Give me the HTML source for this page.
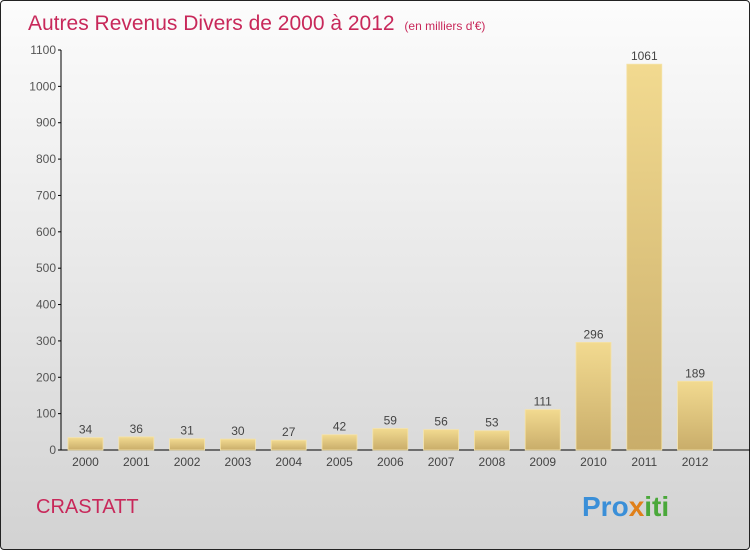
<!DOCTYPE html>
<html><head><meta charset="utf-8"><style>
html,body{margin:0;padding:0;}
body{width:750px;height:550px;overflow:hidden;font-family:"Liberation Sans",sans-serif;}
#wrap{position:absolute;left:0;top:0;width:748px;height:548px;border:1px solid #222;border-radius:4px;background:linear-gradient(#fcfcfc,#e8e8e8 50%,#d2d2d2);}
</style></head><body>
<div id="wrap">
<svg id="chart" width="750" height="550" style="position:absolute;left:-1px;top:-1px">
<defs>
<linearGradient id="bg" x1="0" y1="0" x2="0" y2="1"><stop offset="0" stop-color="#f2da90"/><stop offset="1" stop-color="#c9ad6a"/></linearGradient>
</defs>
<text x="28" y="30" font-size="21" fill="#c8285a">Autres Revenus Divers de 2000 à 2012 <tspan font-size="12" dx="4">(en milliers d'€)</tspan></text>
<text x="36" y="513" font-size="20" fill="#c8285a">CRASTATT</text>
<text x="582" y="516" font-size="28" font-weight="bold"><tspan fill="#3a8fd8">Pro</tspan><tspan fill="#e0801a">x</tspan><tspan fill="#4aa83a">iti</tspan></text>
</svg>
</div>
<script>
const categories=["2000","2001","2002","2003","2004","2005","2006","2007","2008","2009","2010","2011","2012"];
const values=[34,36,31,30,27,42,59,56,53,111,296,1061,189];
const yTicks=[0,100,200,300,400,500,600,700,800,900,1000,1100];
const svg=document.getElementById('chart');
const NS="http://www.w3.org/2000/svg";
const y0=450,yMax=1100,plotH=400,x0=61,step=50.8,firstX=68,bw=35;
const ys=v=>y0-v/yMax*plotH;
const xs=i=>firstX+i*step;
function mk(t,a){const e=document.createElementNS(NS,t);for(const k in a)e.setAttribute(k,a[k]);svg.appendChild(e);return e;}
let ax=mk('line',{x1:x0,y1:ys(yMax),x2:x0,y2:y0,stroke:'#000'});


let bx=mk('line',{x1:x0,y1:y0,x2:750,y2:y0,stroke:'#000'});


yTicks.forEach(v=>{
 const t=mk('line',{x1:x0-3,y1:ys(v),x2:x0,y2:ys(v),stroke:'#000'});
 
 
 const l=mk('text',{x:x0-5,y:ys(v)+4,'font-size':12,fill:'#555','text-anchor':'end'});
 l.textContent=v;
 
 
});
categories.forEach((c,i)=>{
 const v=values[i];
 const r=mk('rect',{x:xs(i),y:ys(v),width:bw,height:y0-ys(v),fill:'url(#bg)',stroke:'#f5e3a8','stroke-width':0.8});
 
 
 const vl=mk('text',{x:xs(i)+bw/2,y:ys(v)-4,'font-size':12,fill:'#444','text-anchor':'middle'});
 vl.textContent=v;
 
 
 const xl=mk('text',{x:xs(i)+bw/2,y:466,'font-size':12,fill:'#444','text-anchor':'middle'});
 xl.textContent=c;
 
 
});
</script>
</body></html>
